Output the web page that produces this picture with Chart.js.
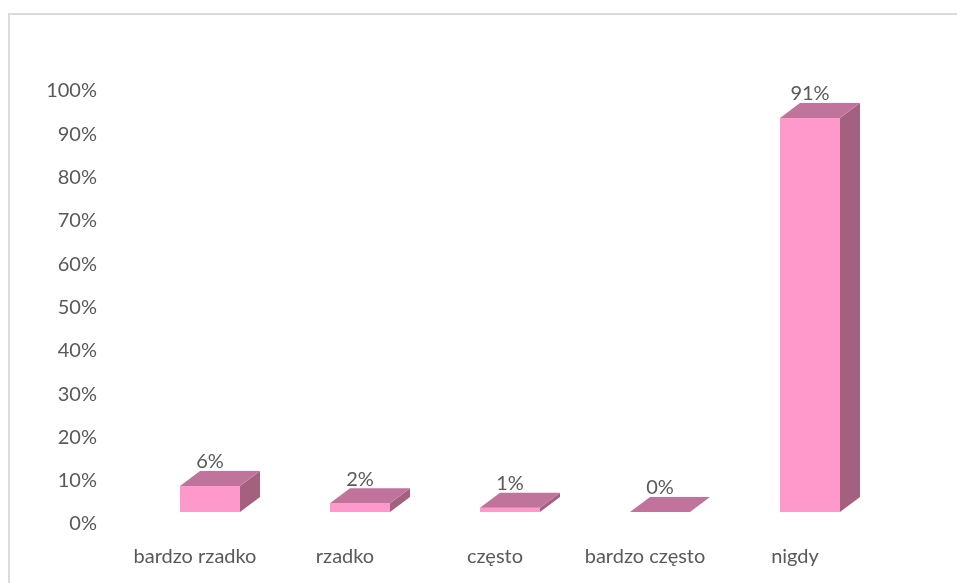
<!DOCTYPE html>
<html>
<head>
<meta charset="utf-8">
<script src="https://cdn.jsdelivr.net/npm/chart.js@4"></script>
<style>
    html, body { margin: 0; padding: 0; background: #fff; }
    #wrap { position: relative; width: 957px; height: 583px; }
    #frame {
        position: absolute; left: 8px; top: 13px; right: 0; bottom: 0;
        border-top: 2px solid #dcdcdc; border-left: 2px solid #dcdcdc;
    }
    canvas { position: absolute; left: 0; top: 0; }
</style>
</head>
<body>
<div id="wrap">
    <div id="frame"></div>
    <canvas id="chart" width="957" height="583"></canvas>
</div>
<script>
// Frequency answers, share of respondents
const CATEGORIES = ['bardzo rzadko', 'rzadko', 'często', 'bardzo często', 'nigdy'];
const SHARES = [0.06, 0.02, 0.01, 0.00, 0.91];
const SHARE_LABELS = ['6%', '2%', '1%', '0%', '91%'];

const FONT = 'Lato, "Open Sans", sans-serif';
const FONT_SIZE = 20;
const TEXT = '#595959';

// 3D look: the bars sit a little right/up of the axis, with a top and side face
const SHIFT = { x: 15, y: -12 };
const DEPTH = { x: 20, y: -15 };
const FRONT = '#ff99cc';
const TOP = '#c0749b';
const SIDE = '#a3617f';

const bars3d = {
    id: 'bars3d',
    beforeDatasetsDraw(chart) {
        chart.ctx.save();
        chart.ctx.translate(SHIFT.x, SHIFT.y);
    },
    afterDatasetsDraw(chart) {
        const { ctx } = chart;
        const meta = chart.getDatasetMeta(0);
        meta.data.forEach((bar, i) => {
            const { x, y, base, width } = bar.getProps(['x', 'y', 'base', 'width'], true);
            const l = x - width / 2, r = x + width / 2;

            // side face
            ctx.fillStyle = SIDE;
            ctx.beginPath();
            ctx.moveTo(r, y);
            ctx.lineTo(r + DEPTH.x, y + DEPTH.y);
            ctx.lineTo(r + DEPTH.x, base + DEPTH.y);
            ctx.lineTo(r, base);
            ctx.closePath();
            ctx.fill();

            // top face
            ctx.fillStyle = TOP;
            ctx.beginPath();
            ctx.moveTo(l, y);
            ctx.lineTo(r, y);
            ctx.lineTo(r + DEPTH.x, y + DEPTH.y);
            ctx.lineTo(l + DEPTH.x, y + DEPTH.y);
            ctx.closePath();
            ctx.fill();

            // value label above the bar
            ctx.fillStyle = TEXT;
            ctx.font = FONT_SIZE + 'px ' + FONT;
            ctx.textAlign = 'center';
            ctx.textBaseline = 'middle';
            ctx.fillText(SHARE_LABELS[i], x, y + DEPTH.y - 9);
        });
        ctx.restore();
    }
};

new Chart(document.getElementById('chart'), {
    type: 'bar',
    data: {
        labels: CATEGORIES,
        datasets: [{
            data: SHARES,
            backgroundColor: FRONT,
            borderWidth: 0,
            barPercentage: 0.4,
            categoryPercentage: 1
        }]
    },
    options: {
        responsive: false,
        animation: false,
        events: [],
        layout: { padding: { top: 91, right: 87, left: 0, bottom: 0 } },
        plugins: { legend: { display: false }, tooltip: { enabled: false } },
        scales: {
            x: {
                grid: { display: false, drawTicks: false },
                border: { display: false },
                afterFit: s => { s.height = 59; },
                ticks: { color: TEXT, font: { family: FONT, size: FONT_SIZE }, padding: 21 }
            },
            y: {
                min: 0,
                max: 1,
                grid: { display: false, drawTicks: false },
                border: { display: false },
                afterFit: s => { s.width = 120; },
                ticks: {
                    stepSize: 0.1,
                    padding: 23,
                    color: TEXT,
                    font: { family: FONT, size: FONT_SIZE },
                    callback: v => Math.round(v * 100) + '%'
                }
            }
        }
    },
    plugins: [bars3d]
});
</script>
</body>
</html>
